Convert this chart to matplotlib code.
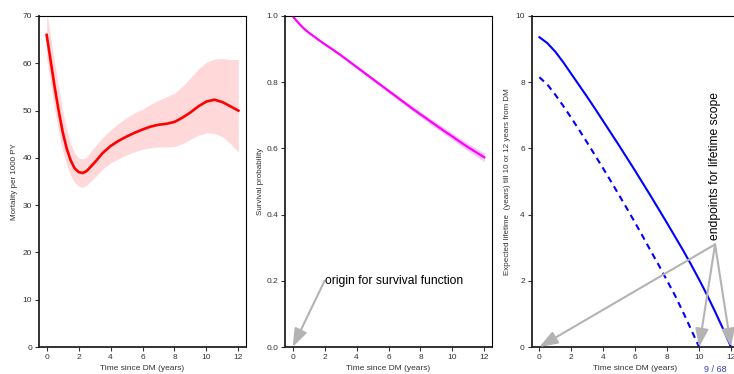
import numpy as np
import matplotlib.pyplot as plt

plt.rcParams['font.family'] = ['Liberation Sans', 'DejaVu Sans']

# Mortality rate per 1000 PY with confidence band
t_mort = [0, 0.25, 0.5, 0.75, 1.0, 1.25, 1.5, 1.75, 2.0, 2.25, 2.5, 3.0, 3.5, 4.0,
          4.5, 5.0, 5.5, 6.0, 6.5, 7.0, 7.5, 8.0, 8.5, 9.0, 9.5, 10.0, 10.5, 11.0,
          11.5, 12.0]
mort = [66, 60.5, 55, 50, 45.5, 42, 39.5, 37.8, 37.0, 36.8, 37.2, 39.0, 41.0, 42.5,
        43.6, 44.5, 45.3, 46.0, 46.6, 47.0, 47.2, 47.6, 48.5, 49.6, 50.9, 51.9, 52.3,
        51.8, 50.9, 50.0]
mort_lo = [61, 55.5, 50, 45.5, 41.5, 38.5, 36.3, 34.8, 34.0, 33.8, 34.2, 35.8, 37.6,
           38.9, 39.8, 40.6, 41.3, 41.8, 42.1, 42.3, 42.3, 42.4, 43.0, 43.9, 44.8,
           45.3, 45.2, 44.5, 43.0, 41.2]
mort_hi = [71, 65.5, 60, 55, 50.0, 46, 43, 41, 40.0, 39.8, 40.2, 42.3, 44.3, 45.9,
           47.3, 48.5, 49.5, 50.3, 51.3, 52.2, 52.9, 53.7, 55.1, 56.9, 58.8, 60.2,
           60.9, 61.0, 60.8, 60.8]

# Survival probability
t_surv = [0, 0.25, 0.5, 0.75, 1, 1.5, 2, 2.5, 3, 3.5, 4, 4.5, 5, 5.5, 6, 6.5, 7,
          7.5, 8, 8.5, 9, 9.5, 10, 10.5, 11, 11.5, 12]
surv = [1.0, 0.985, 0.972, 0.96, 0.95, 0.932, 0.915, 0.899, 0.882, 0.864, 0.846,
        0.828, 0.81, 0.792, 0.774, 0.756, 0.738, 0.72, 0.703, 0.686, 0.669, 0.652,
        0.636, 0.619, 0.603, 0.588, 0.573]
t_sband = [0, 1, 2, 3, 4, 5, 6, 7, 8, 9, 10, 11, 12]
surv_lo = [1.0, 0.948, 0.912, 0.878, 0.841, 0.805, 0.768, 0.731, 0.695, 0.660,
           0.626, 0.592, 0.560]
surv_hi = [1.0, 0.952, 0.918, 0.886, 0.851, 0.815, 0.780, 0.745, 0.711, 0.678,
           0.646, 0.614, 0.586]

# Expected lifetime till 12 (solid) and till 10 (dashed) years from DM
t_e12 = [0, 0.5, 1, 1.5, 2, 2.5, 3, 3.5, 4, 4.5, 5, 5.5, 6, 6.5, 7, 7.5, 8, 8.5,
         9, 9.5, 10, 10.5, 11, 11.5, 12]
e12 = [9.36, 9.18, 8.92, 8.6, 8.25, 7.9, 7.55, 7.19, 6.82, 6.45, 6.08, 5.7, 5.32,
       4.93, 4.54, 4.14, 3.74, 3.33, 2.92, 2.49, 2.04, 1.57, 1.07, 0.55, 0.0]
t_e10 = [0, 0.5, 1, 1.5, 2, 2.5, 3, 3.5, 4, 4.5, 5, 5.5, 6, 6.5, 7, 7.5, 8, 8.5,
         9, 9.5, 10]
e10 = [8.15, 7.93, 7.62, 7.28, 6.92, 6.55, 6.17, 5.78, 5.39, 4.99, 4.58, 4.17,
       3.75, 3.32, 2.88, 2.45, 2.0, 1.55, 1.05, 0.53, 0.0]

xticks = [0, 2, 4, 6, 8, 10, 12]
arrow_col = '#b3b3b3'
tick_col = '#333333'

fig = plt.figure(figsize=(7.34, 3.74), dpi=100)
W, H = 734, 374
lefts = [39, 285, 531.7]
axes = [fig.add_axes([l / W, 27 / H, 207 / W, 331 / H]) for l in lefts]


def style(ax, ylim, yticks, ylabel, ylabels=None):
    ax.set_xlim(-0.48, 12.48)
    ax.set_ylim(*ylim)
    ax.set_xticks(xticks)
    ax.set_yticks(yticks)
    if ylabels is not None:
        ax.set_yticklabels(ylabels)
    ax.tick_params(direction='out', length=3, width=0.8, color=tick_col,
                   labelsize=6, labelcolor=tick_col, pad=2)
    for s in ['top', 'right']:
        ax.spines[s].set_linewidth(0.8)
        ax.spines[s].set_color('black')
    for s in ['left', 'bottom']:
        ax.spines[s].set_linewidth(1.3)
        ax.spines[s].set_color('#222222')
    ax.set_xlabel('Time since DM (years)', fontsize=6, color=tick_col, va='center')
    ax.set_ylabel(ylabel, fontsize=5.8, color=tick_col)
    ax.xaxis.set_label_coords(0.5, -0.066)
    ax.yaxis.set_label_coords(-0.10, 0.5)


# panel 1: mortality
ax = axes[0]
ax.fill_between(t_mort, mort_lo, mort_hi, color='#ffd9d9', lw=0)
ax.plot(t_mort, mort, color='#ff0000', lw=1.9)
style(ax, (0, 70), range(0, 71, 10), 'Mortality per 1000 PY')

# panel 2: survival
ax = axes[1]
ax.fill_between(t_sband, surv_lo, surv_hi, color='#f8c8f8', lw=0)
ax.plot(t_surv, surv, color='#ff00ff', lw=1.6)
style(ax, (0, 1), [0, 0.2, 0.4, 0.6, 0.8, 1.0], 'Survival probability',
      ['0.0', '0.2', '0.4', '0.6', '0.8', '1.0'])
aprops = dict(arrowstyle='-|>,head_length=1.1,head_width=0.4', color=arrow_col,
              lw=1.5, shrinkA=0, shrinkB=0, mutation_scale=10)
ax.annotate('', xy=(0, 0), xytext=(2, 0.2), arrowprops=aprops,
            annotation_clip=False)
ax.text(2.05, 0.2, 'origin for survival function', fontsize=8.7,
        ha='left', va='center')

# panel 3: expected lifetime
ax = axes[2]
ax.plot(t_e12, e12, color='#0000ff', lw=1.5)
ax.plot(t_e10, e10, color='#0000ff', lw=1.5, dashes=(3, 2.3))
style(ax, (0, 10), range(0, 11, 2),
      'Expected lifetime  (years) till 10 or 12 years from DM')
for x_end in [0, 10, 12]:
    ax.annotate('', xy=(x_end, 0), xytext=(11, 3.1), arrowprops=aprops,
                annotation_clip=False)
ax.text(11, 3.22, 'endpoints for lifetime scope', fontsize=8.7, rotation=90,
        ha='center', va='bottom')

fig.text(715 / W, 1 - 370 / H, '9 / 68', fontsize=6.5, color='#3c3cc0',
         ha='center', va='center')

fig.savefig('out.png', dpi=100)
